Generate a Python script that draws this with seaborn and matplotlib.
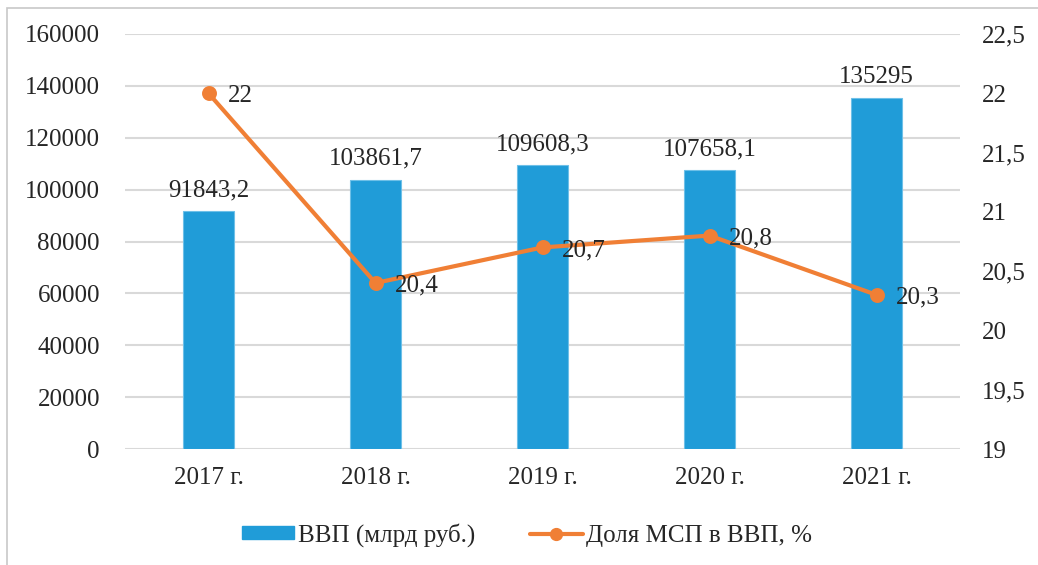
import matplotlib
matplotlib.use("Agg")
import matplotlib.pyplot as plt
import seaborn as sns
import numpy as np
from matplotlib.patches import Patch, Rectangle
from matplotlib.lines import Line2D
from matplotlib.ticker import FuncFormatter

years = ["2017 г.", "2018 г.", "2019 г.", "2020 г.", "2021 г."]
gdp = [91843.2, 103861.7, 109608.3, 107658.1, 135295]
sme_share = [22, 20.4, 20.7, 20.8, 20.3]
gdp_labels = ["91843,2", "103861,7", "109608,3", "107658,1", "135295"]
share_labels = ["22", "20,4", "20,7", "20,8", "20,3"]
legend_labels = ["ВВП (млрд руб.)", "Доля МСП в ВВП, %"]

blue = "#209CD8"
orange = "#F07F35"
grid_c = "#D9D9D9"

sns.set_style("white")
plt.rcParams["font.family"] = ["Liberation Serif", "DejaVu Serif"]
plt.rcParams["font.size"] = 18

fig = plt.figure(figsize=(10.38, 5.65), dpi=100)
ax = fig.add_axes([125/1038, 1-449/565, (960-125)/1038, (449-34)/565])
sns.barplot(x=years, y=gdp, color=blue, saturation=1, width=0.31, ax=ax,
            edgecolor="#6EC0E8", linewidth=0.8, zorder=2)
ax.set_ylim(0, 160000)
ax.set_yticks(np.arange(0, 160001, 20000))
ax.yaxis.set_major_formatter(FuncFormatter(lambda v, p: f"{int(v)}"))
ax.grid(axis="y", color=grid_c, linewidth=1.5, zorder=0)
ax.set_axisbelow(True)
for s in ax.spines.values():
    s.set_visible(False)
ax.tick_params(axis="y", length=0, pad=18, labelsize=18)
ax.tick_params(axis="x", length=0, pad=13, labelsize=18)
ax.set_xlabel("")
ax.set_ylabel("")
for i, (v, lab) in enumerate(zip(gdp, gdp_labels)):
    ax.annotate(lab, (i, v), xytext=(0, 7), textcoords="offset points", ha="center", va="bottom", fontsize=18)

ax2 = ax.twinx()
sns.pointplot(x=years, y=sme_share, ax=ax2, color=orange, markers="o", linestyles="-", markersize=8.5, linewidth=3)
ax2.set_ylim(19, 22.5)
ax2.set_yticks(np.arange(19, 22.51, 0.5))
ax2.yaxis.set_major_formatter(FuncFormatter(lambda v, p: (f"{v:g}").replace(".", ",")))
for s in ax2.spines.values():
    s.set_visible(False)
ax2.tick_params(axis="y", length=0, pad=16, labelsize=18)
ax2.set_ylabel("")
for i, (v, lab) in enumerate(zip(sme_share, share_labels)):
    ax2.annotate(lab, (i, v), xytext=(14, -2), textcoords="offset points", ha="left", va="center", fontsize=18)
ax.set_xlim(-0.5, 4.5)
ax2.set_xlim(-0.5, 4.5)

handles = [
    Patch(facecolor=blue, edgecolor=blue),
    Line2D([], [], color=orange, lw=3, marker="o", markersize=8.5),
]
fig.legend(handles, legend_labels, loc="center", bbox_to_anchor=(527/1038, 1-535/565),
           ncol=2, frameon=False, fontsize=18, handlelength=2.1, handleheight=0.45,
           handletextpad=0.15, columnspacing=2.2)

fig.patches.append(Rectangle((7/1038, -0.1), 1.2, 1.1 - 8/565, transform=fig.transFigure,
                             fill=False, edgecolor="#C8C8C8", linewidth=1.2))

fig.savefig("out.png", dpi=100)
